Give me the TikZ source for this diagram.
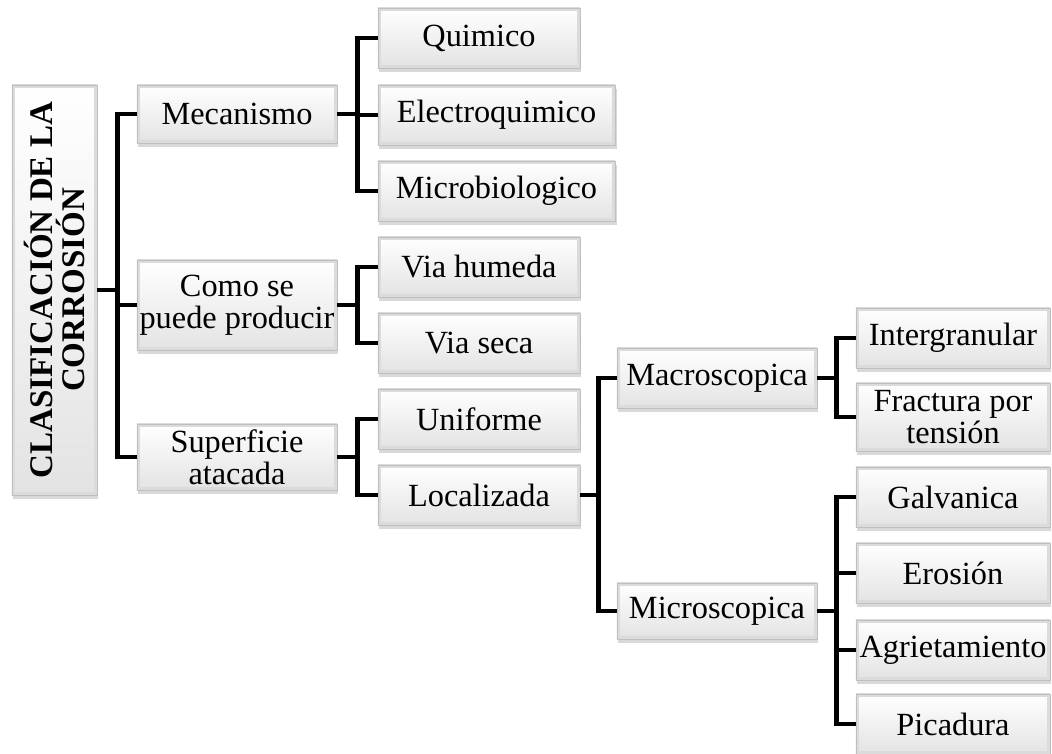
\documentclass[tikz,border=0pt]{standalone}
\usepackage{fontspec}
\setmainfont{Liberation Serif}
\usetikzlibrary{shadows}
\begin{document}
\begin{tikzpicture}[x=0.025cm,y=-0.025cm,font=\fontsize{23}{22.5}\selectfont, line cap=round,line join=round,
  box/.style={rectangle,draw=gray!50,line width=0.4pt,top color=white,bottom color=gray!22,
    minimum width=5cm,minimum height=1.5cm,inner sep=1pt,align=center,
    path picture={\draw[gray!28,line width=4pt] (path picture bounding box.south west) rectangle (path picture bounding box.north east);},
    drop shadow={shadow xshift=1pt,shadow yshift=-2.5pt,opacity=0.3,fill=gray}},
  leaf/.style={box,minimum width=5.05cm},
  link/.style={line width=3.5pt,line cap=butt,line join=miter}]
\useasboundingbox (0,0) rectangle (1052,754);
% root
\node[box,minimum width=2.125cm,minimum height=10.25cm] (root) at (54.5,290) {};
\node[rotate=90,align=center,font=\fontsize{23.5}{23}\selectfont\bfseries] at (root.center) {CLASIFICACIÓN DE LA\\CORROSIÓN};
% level 1
\node[box,minimum height=1.45cm] (mec) at (237,114) {Mecanismo};
\node[box,minimum height=2.25cm] (como) at (237,305) {Como se\\puede producir};
\node[box,minimum height=1.65cm] (sup) at (237,457) {Superficie\\atacada};
% level 2
\node[leaf] (quim) at (479,38) {Quimico};
\node[leaf,minimum width=5.93cm] (elec) at (496.5,115) {Electroquimico};
\node[leaf,minimum width=5.93cm] (mbio) at (496.5,191) {Microbiologico};
\node[leaf] (vhum) at (479,267) {Via humeda};
\node[leaf] (vsec) at (479,343) {Via seca};
\node[leaf] (unif) at (479,419) {Uniforme};
\node[leaf] (loc) at (479,495) {Localizada};
% level 3
\node[box] (macro) at (717,378) {Macroscopica};
\node[box,minimum height=1.4cm] (micro) at (717,611) {Microscopica};
% level 4
\node[leaf,minimum width=4.85cm] (inter) at (953,338) {Intergranular};
\node[leaf,minimum width=4.85cm,minimum height=1.7cm] (fract) at (953,417) {Fractura por\\tensión};
\node[leaf,minimum width=4.85cm] (galv) at (953,497) {Galvanica};
\node[leaf,minimum width=4.85cm] (eros) at (953,573) {Erosión};
\node[leaf,minimum width=4.85cm] (agri) at (953,650) {Agrietamiento};
\node[leaf,minimum width=4.85cm] (pica) at (953,724) {Picadura};
% connectors
\foreach \c in {mec,como,sup}
  \draw[link] (root.east) -- ++(20.5,0) |- (\c.west);
\foreach \c in {quim,elec,mbio}
  \draw[link] (mec.east) -- ++(20.5,0) |- (\c.west);
\foreach \c in {vhum,vsec}
  \draw[link] (como.east) -- ++(20.5,0) |- (\c.west);
\foreach \c in {unif,loc}
  \draw[link] (sup.east) -- ++(20.5,0) |- (\c.west);
\foreach \c in {macro,micro}
  \draw[link] (loc.east) -- ++(18.5,0) |- (\c.west);
\foreach \c in {inter,fract}
  \draw[link] (macro.east) -- ++(19.5,0) |- (\c.west);
\foreach \c in {galv,eros,agri,pica}
  \draw[link] (micro.east) -- ++(19.5,0) |- (\c.west);
\end{tikzpicture}
\end{document}
